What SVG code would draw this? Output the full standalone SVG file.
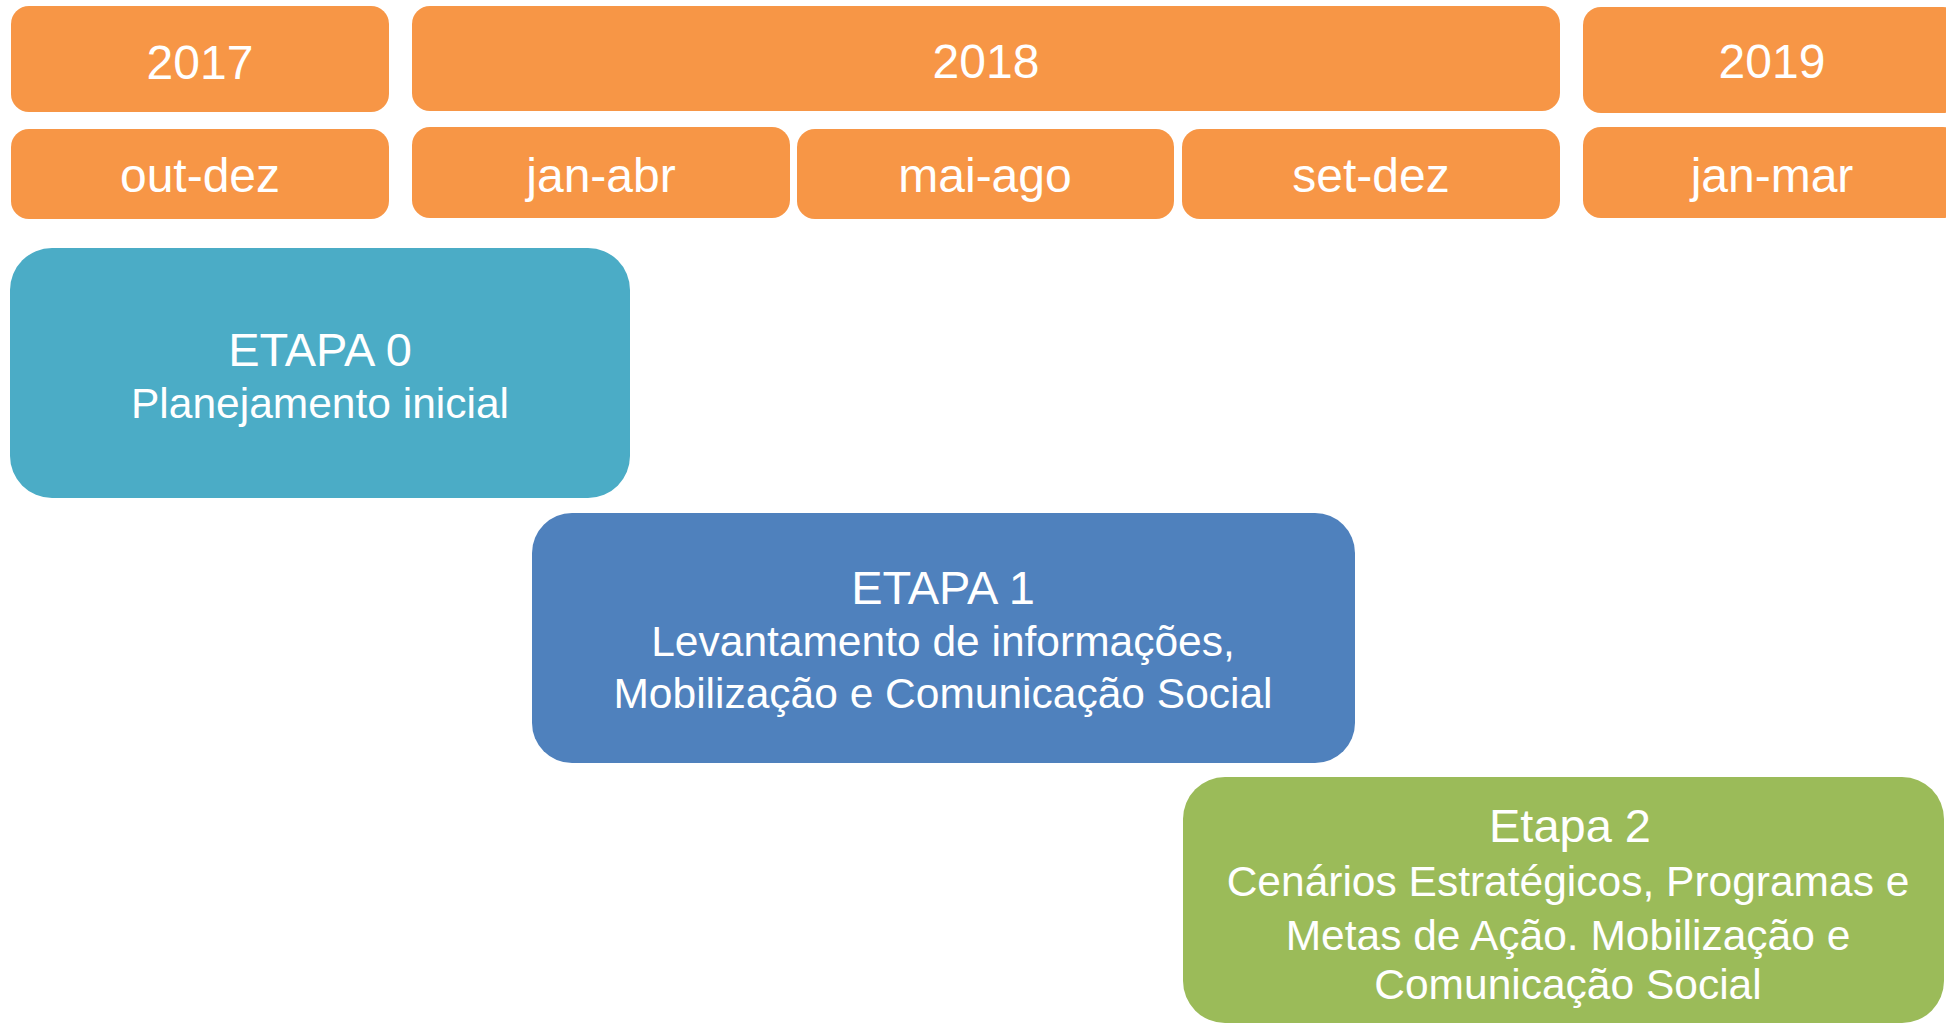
<svg xmlns="http://www.w3.org/2000/svg" width="1946" height="1024" viewBox="0 0 1946 1024">
<style>
.hdr{fill:#F79646}
.t{font-family:"Liberation Sans",Arial,sans-serif;fill:#FFFFFF;text-anchor:middle}
.yr{font-size:48px}
.mo{font-size:48px}
.ttl{font-size:47px}
.sub{font-size:42.5px}
</style>
<rect width="1946" height="1024" fill="#FFFFFF"/>
<g id="y2017"><rect class="hdr" x="11" y="6" width="378" height="106" rx="18"/><text class="t yr" x="200" y="79">2017</text></g>
<g id="y2018"><rect class="hdr" x="412" y="6" width="1148" height="105" rx="18"/><text class="t yr" x="986" y="78">2018</text></g>
<g id="y2019"><rect class="hdr" x="1583" y="7" width="378" height="106" rx="18"/><text class="t yr" x="1772" y="78">2019</text></g>
<g id="m-out-dez"><rect class="hdr" x="11" y="129" width="378" height="90" rx="18"/><text class="t mo" x="200" y="192">out-dez</text></g>
<g id="m-jan-abr"><rect class="hdr" x="412" y="127" width="378" height="91" rx="18"/><text class="t mo" x="601" y="192">jan-abr</text></g>
<g id="m-mai-ago"><rect class="hdr" x="797" y="129" width="377" height="90" rx="18"/><text class="t mo" x="985" y="192">mai-ago</text></g>
<g id="m-set-dez"><rect class="hdr" x="1182" y="129" width="378" height="90" rx="18"/><text class="t mo" x="1371" y="192">set-dez</text></g>
<g id="m-jan-mar"><rect class="hdr" x="1583" y="127" width="378" height="91" rx="18"/><text class="t mo" x="1772" y="192">jan-mar</text></g>
<g id="etapa0"><rect x="10" y="248" width="620" height="250" rx="42" fill="#4BACC6"/>
<text class="t ttl" x="320" y="366">ETAPA 0</text>
<text class="t sub" x="320" y="418">Planejamento inicial</text></g>
<g id="etapa1"><rect x="532" y="513" width="823" height="250" rx="40" fill="#4F81BD"/>
<text class="t ttl" x="943" y="604">ETAPA 1</text>
<text class="t sub" x="943" y="656">Levantamento de informações,</text>
<text class="t sub" x="943" y="708">Mobilização e Comunicação Social</text></g>
<g id="etapa2"><rect x="1183" y="777" width="761" height="246" rx="42" fill="#9BBB59"/>
<text class="t ttl" x="1570" y="842">Etapa 2</text>
<text class="t sub" x="1568" y="896">Cenários Estratégicos, Programas e</text>
<text class="t sub" x="1568" y="950">Metas de Ação. Mobilização e</text>
<text class="t sub" x="1568" y="999">Comunicação Social</text></g>
<g id="connectors"></g>
</svg>
